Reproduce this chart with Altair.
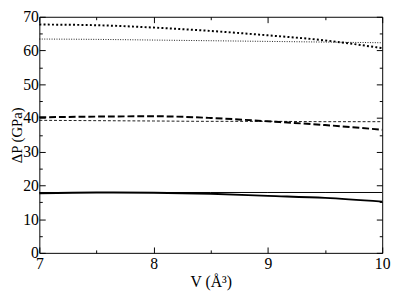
import altair as alt
import pandas as pd

# x positions (V, Å^3)
V = [7.0, 7.5, 8.0, 8.5, 9.0, 9.5, 10.0]

# series values (ΔP, GPa)
dotted_thick = [67.7, 67.5, 66.8, 65.8, 64.5, 63.0, 60.7]
dotted_thin = [63.4, 63.3, 63.1, 62.9, 62.7, 62.5, 62.3]
dashed_thick = [40.2, 40.4, 40.5, 40.0, 39.0, 37.9, 36.5]
dashed_thin = [39.3, 39.2, 39.1, 39.0, 39.0, 38.9, 38.9]
solid_thick = [17.7, 17.9, 17.8, 17.5, 16.9, 16.3, 15.2]
solid_thin = [17.9, 17.9, 17.9, 17.9, 17.9, 17.9, 17.9]

series = {
    "dotted_thick": dotted_thick,
    "dotted_thin": dotted_thin,
    "dashed_thick": dashed_thick,
    "dashed_thin": dashed_thin,
    "solid_thick": solid_thick,
    "solid_thin": solid_thin,
}

x_major = [7, 8, 9, 10]
x_minor = [7.5, 8.5, 9.5]
y_major = [0, 10, 20, 30, 40, 50, 60, 70]
y_minor = [5, 15, 25, 35, 45, 55, 65]

styles = {
    "dotted_thick": dict(strokeDash=[2, 2.3], strokeWidth=2),
    "dotted_thin": dict(strokeDash=[1, 1.5], strokeWidth=0.9),
    "dashed_thick": dict(strokeDash=[7, 3], strokeWidth=2),
    "dashed_thin": dict(strokeDash=[3, 2], strokeWidth=0.9),
    "solid_thick": dict(strokeWidth=2),
    "solid_thin": dict(strokeWidth=1),
}

rows = []
for name, vals in series.items():
    for xv, yv in zip(V, vals):
        rows.append({"series": name, "V": xv, "dP": yv})
df = pd.DataFrame(rows)

W, H = 350, 241
FONT = "Liberation Serif"

xs = alt.Scale(domain=[7, 10], nice=False, zero=False)
ys = alt.Scale(domain=[0, 70], nice=False)

layers = []
first = True
for name in series:
    if first:
        xax = alt.Axis(orient="bottom", values=x_major, ticks=False, domain=False,
                       grid=False, labelFlush=False, labelPadding=3, title="V (Å³)",
                       titlePadding=2)
        yax = alt.Axis(orient="left", values=y_major, ticks=False, domain=False,
                       grid=False, labelFlush=False, labelPadding=1, title="ΔP (GPa)",
                       titleFontSize=15, titleX=-18.5, titleBaseline="alphabetic")
        first = False
    else:
        xax = None
        yax = None
    layers.append(
        alt.Chart(df[df.series == name]).mark_line(color="black", interpolate="monotone",
                                                   **styles[name]).encode(
            x=alt.X("V:Q", scale=xs, axis=xax),
            y=alt.Y("dP:Q", scale=ys, axis=yax),
        )
    )


def tick_axis(vals, orient, offset, size):
    return alt.Axis(orient=orient, offset=offset, values=vals, labels=False, domain=False,
                    grid=False, ticks=True, tickSize=size, tickColor="black", tickWidth=1,
                    title=None)


ghost = alt.Chart(df).mark_point(opacity=0, size=1)
for vals, size in [(x_major, 6), (x_minor, 3)]:
    layers.append(ghost.encode(x=alt.X("V:Q", scale=xs, axis=tick_axis(vals, "top", -H, size)),
                               y=alt.Y("dP:Q", scale=ys, axis=None)))
    layers.append(ghost.encode(x=alt.X("V:Q", scale=xs, axis=tick_axis(vals, "bottom", -H, size)),
                               y=alt.Y("dP:Q", scale=ys, axis=None)))
for vals, size in [(y_major, 6), (y_minor, 3)]:
    layers.append(ghost.encode(y=alt.Y("dP:Q", scale=ys, axis=tick_axis(vals, "right", -W, size)),
                               x=alt.X("V:Q", scale=xs, axis=None)))
    layers.append(ghost.encode(y=alt.Y("dP:Q", scale=ys, axis=tick_axis(vals, "left", -W, size)),
                               x=alt.X("V:Q", scale=xs, axis=None)))

chart = alt.layer(*layers).resolve_axis(x="independent", y="independent").properties(
    width=W, height=H,
    autosize=alt.AutoSizeParams(type="none"),
    padding={"left": 32, "top": 6, "right": 10, "bottom": 38},
    background="white",
).configure(font=FONT).configure_axis(
    labelFont=FONT, labelFontSize=16, labelColor="black",
    titleFont=FONT, titleFontSize=16, titleFontWeight="normal", titleColor="black",
).configure_view(stroke="black", strokeWidth=1)

chart.save("out.html", embed_options={"renderer": "svg", "actions": False})
